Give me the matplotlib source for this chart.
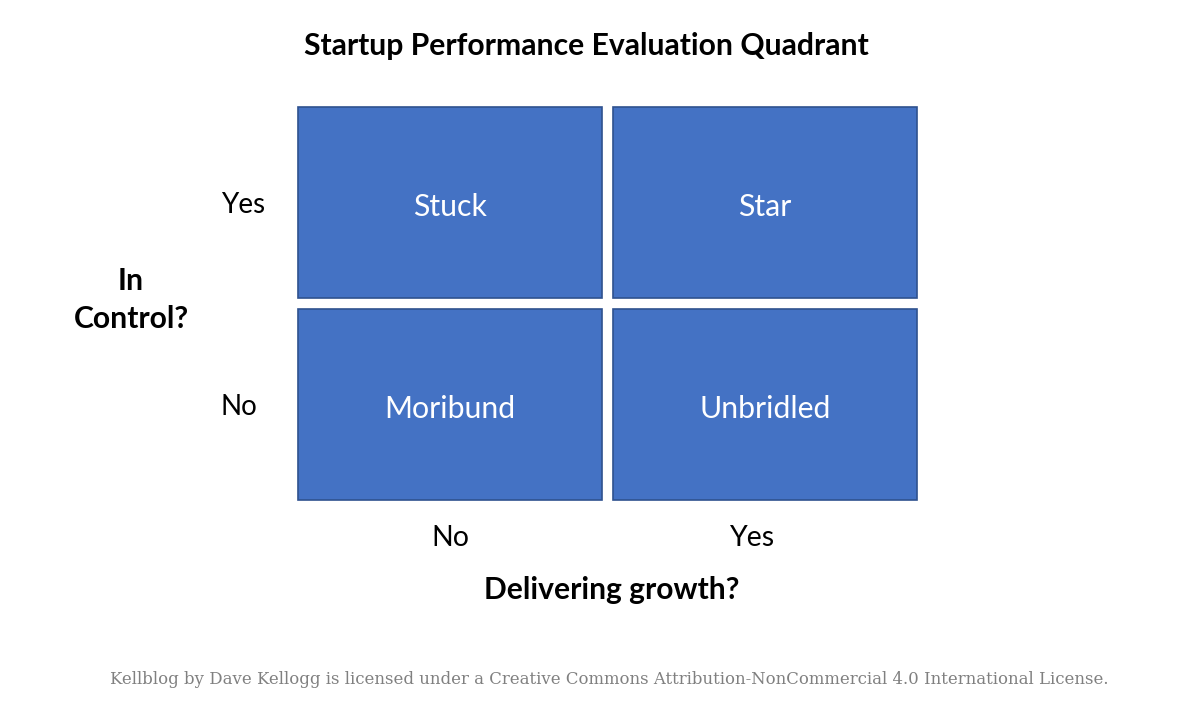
import matplotlib
matplotlib.use("Agg")
from matplotlib import pyplot as plt
from matplotlib.patches import Rectangle
from matplotlib.transforms import ScaledTranslation

# quadrant grid: columns = delivering growth (No, Yes), rows = in control (No, Yes)
x_labels = ['No', 'Yes']
y_labels = ['No', 'Yes']
cell_names = [['Moribund', 'Unbridled'],   # in control = No
              ['Stuck', 'Star']]           # in control = Yes

title = 'Startup Performance Evaluation Quadrant'
x_title = 'Delivering growth?'
y_title = 'In\nControl?'
footer = ('Kellblog by Dave Kellogg is licensed under a Creative Commons '
          'Attribution-NonCommercial 4.0 International License.')

fill = '#4472C4'
edge = '#2F528F'
font = 'Lato'

W, H = 1200, 726
fig = plt.figure(figsize=(W / 100, H / 100), dpi=100)

# axes box in pixels (grid area incl. half gap)
left, right, top, bottom = 292.5, 922.5, 101.5, 505.5
ax = fig.add_axes([left / W, 1 - bottom / H, (right - left) / W, (bottom - top) / H])
ax.set_xlim(-0.5, 1.5)
ax.set_ylim(-0.5, 1.5)

cw, ch = 0.965, 0.948
for r, row in enumerate(cell_names):
    for c, name in enumerate(row):
        ax.add_patch(Rectangle((c - cw / 2, r - ch / 2), cw, ch,
                               facecolor=fill, edgecolor=edge, linewidth=1.2))
        ax.text(c, r - 0.02, name, ha='center', va='center', color='white',
                fontsize=21.8, family=font)

for s in ax.spines.values():
    s.set_visible(False)
ax.tick_params(length=0)
ax.set_xticks(range(len(x_labels)))
ax.set_xticklabels(x_labels, fontsize=20.5, family=font)
ax.set_yticks(range(len(y_labels)))
ax.set_yticklabels(y_labels, fontsize=20, family=font, ha='left')
ax.tick_params(axis='x', pad=14)
ax.tick_params(axis='y', pad=51.5)
# the "Yes" under the right column sits a little left of centre
lbl = ax.get_xticklabels()[1]
lbl.set_transform(lbl.get_transform() + ScaledTranslation(-0.12, 0, fig.dpi_scale_trans))

fig.text(586 / W, 1 - 46 / H, title, ha='center', va='center',
         fontsize=21.7, fontweight='bold', family=font)
fig.text(612 / W, 1 - 590 / H, x_title, ha='center', va='center',
         fontsize=21.6, fontweight='bold', family=font)
fig.text(131 / W, 1 - 300 / H, y_title, ha='center', va='center',
         fontsize=21.7, fontweight='bold', family=font, linespacing=1.45)
fig.text(609 / W, 1 - 679 / H, footer, ha='center', va='center',
         fontsize=11.9, color='#808080', family='DejaVu Serif')

fig.savefig('out.png', dpi=100, facecolor='white')
